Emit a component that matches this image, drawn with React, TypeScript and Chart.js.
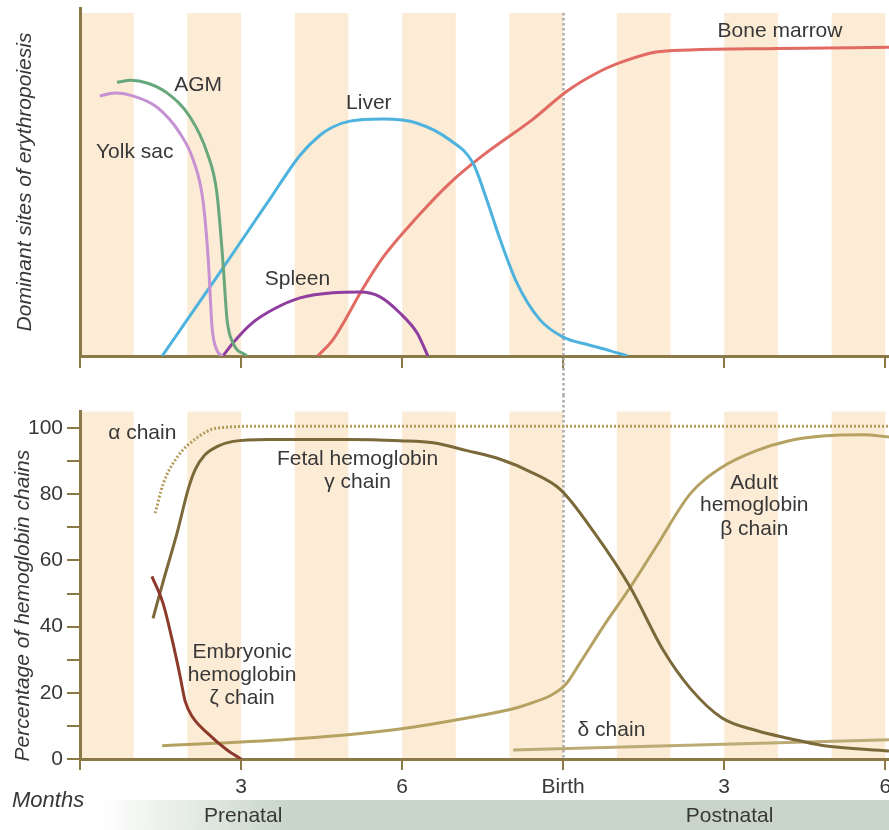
import React, { useEffect, useRef } from 'react';
import { Chart, registerables } from 'chart.js';

Chart.register(...registerables);

// ---------- data ----------
const monthTicks = [0, 3, 6, 9, 12, 15];
const monthTickLabels = ['', '3', '6', 'Birth', '3', '6'];
const percentTicks = [0, 10, 20, 30, 40, 50, 60, 70, 80, 90, 100];
const stripeStarts = [0, 2, 4, 6, 8, 10, 12, 14];
const birthMonth = 9;
const monthMax = 15.07;

// Top panel: dominant sites of erythropoiesis (relative level)
const yolkSacMonths = [0.37, 0.65, 0.95, 1.43, 1.86, 2.11, 2.29, 2.39, 2.46, 2.55, 2.66];
const yolkSacLevel = [75.6, 76.5, 75.8, 72.4, 64.8, 57.0, 45.3, 27.9, 8.4, 1.7, 0];

const agmMonths = [0.69, 0.95, 1.25, 1.62, 2.05, 2.37, 2.55, 2.66, 2.74, 2.85, 3.11];
const agmLevel = [79.6, 80.2, 79.4, 76.5, 69.5, 59.0, 47.4, 27.9, 10.5, 3.8, 0];

const liverMonths = [1.53, 2.55, 3.5, 4.1, 4.47, 4.71, 5.03, 5.65, 6.28, 6.89, 7.32, 7.58, 7.83, 8.14, 8.57, 9.0, 9.48, 9.88, 10.2];
const liverLevel = [0, 23.0, 44.8, 58.4, 64.2, 66.6, 68.3, 68.9, 67.7, 62.8, 56.1, 45.3, 33.7, 21.2, 10.5, 5.5, 3.2, 1.5, 0];

const spleenMonths = [2.66, 2.85, 3.2, 3.63, 4.1, 4.71, 5.22, 5.59, 5.96, 6.28, 6.48];
const spleenLevel = [0, 3.8, 9.5, 13.8, 16.9, 18.4, 18.6, 17.2, 12.5, 6.7, 0];

const boneMarrowMonths = [4.43, 4.71, 4.94, 5.22, 5.65, 6.28, 6.89, 7.51, 8.44, 9.07, 9.69, 10.15, 10.73, 11.35, 13.0, 15.07];
const boneMarrowLevel = [0, 4.7, 10.5, 18.3, 28.8, 40.4, 50.3, 58.4, 68.9, 77.0, 82.8, 85.8, 88.4, 89.0, 89.4, 89.8];

// Bottom panel: percentage of hemoglobin chains
const alphaMonths = [1.4, 1.55, 1.81, 2.18, 2.55, 3.5, 15.07];
const alphaPct = [74.3, 83.2, 91.2, 97.1, 100, 100.6, 100.6];

const gammaMonths = [1.36, 1.55, 1.81, 2.02, 2.15, 2.32, 2.55, 2.85, 3.5, 5.0, 5.96, 6.58, 7.21, 7.83, 8.39, 8.95, 9.58, 10.25, 10.86, 11.36, 11.96, 12.6, 13.21, 13.83, 15.07];
const gammaPct = [42.5, 53.7, 68.4, 81.8, 87.6, 91.8, 94.4, 96.0, 96.6, 96.6, 96.2, 95.6, 93.2, 90.6, 86.8, 81.4, 68.4, 51.9, 33.0, 21.5, 12.4, 8.6, 6.2, 4.1, 2.4];

const betaMonths = [1.53, 4.1, 5.96, 7.21, 8.14, 8.39, 8.8, 9.05, 9.32, 9.75, 10.25, 10.75, 11.37, 11.96, 12.6, 13.21, 13.83, 14.6, 15.07];
const betaPct = [4.0, 6.2, 9.1, 12.4, 15.5, 16.8, 19.5, 22.6, 29.2, 40.1, 51.9, 64.6, 80.2, 88.2, 93.2, 96.2, 97.6, 98.0, 97.3];

const zetaMonths = [1.34, 1.55, 1.73, 1.86, 1.96, 2.1, 2.37, 2.74, 3.0];
const zetaPct = [55.2, 46.9, 35.1, 25.4, 17.4, 12.6, 7.9, 2.7, 0];

const deltaMonths = [8.07, 15.07];
const deltaPct = [2.7, 5.8];

// annotation text (data coordinates)
const topLabels = [
  { text: 'AGM', x: 2.2, y: 78.8 },
  { text: 'Yolk sac', x: 1.02, y: 59.2 },
  { text: 'Liver', x: 5.38, y: 73.4 },
  { text: 'Spleen', x: 4.05, y: 22.4 },
  { text: 'Bone marrow', x: 13.04, y: 94.5 },
];
const bottomLabels = [
  { text: '\u03b1 chain', x: 1.16, y: 98.5 },
  { text: 'Fetal hemoglobin', x: 5.17, y: 90.6 },
  { text: '\u03b3 chain', x: 5.17, y: 83.6 },
  { text: 'Embryonic', x: 3.02, y: 32.4 },
  { text: 'hemoglobin', x: 3.02, y: 25.4 },
  { text: '\u03b6 chain', x: 3.02, y: 18.4 },
  { text: 'Adult', x: 12.56, y: 83.5 },
  { text: 'hemoglobin', x: 12.56, y: 76.6 },
  { text: '\u03b2 chain', x: 12.56, y: 69.6 },
  { text: '\u03b4 chain', x: 9.9, y: 8.6 },
];
const phaseLabels = [
  { text: 'Prenatal', x: 3.04 },
  { text: 'Postnatal', x: 12.1 },
];

// ---------- styles ----------
const FONT = '"Liberation Sans", Arial, Helvetica, sans-serif';
const AXIS = '#8a7947';
const TEXT = '#383838';
const STRIPE = '#fcebd5';
const FS = 21;

const pts = (xs: number[], ys: number[]) => xs.map((x, i) => ({ x, y: ys[i] }));

const stripesPlugin = {
  id: 'stripes',
  beforeDraw(chart: any, _a: any, opts: any) {
    const { ctx, chartArea, scales } = chart;
    const x = scales.x;
    const top = chartArea.top + (opts.inset || 0);
    ctx.save();
    ctx.fillStyle = STRIPE;
    stripeStarts.forEach((s) => {
      const x0 = x.getPixelForValue(s);
      const x1 = x.getPixelForValue(s + 1);
      ctx.fillRect(x0, top, x1 - x0, chartArea.bottom - top);
    });
    ctx.restore();
  },
  beforeDatasetsDraw(chart: any, _a: any, opts: any) {
    const { ctx, chartArea, scales } = chart;
    const bx = Math.round(scales.x.getPixelForValue(birthMonth)) + 0.5;
    const y0 = opts.birthFrom === 'canvas' ? 0 : chartArea.top + (opts.inset || 0);
    const y1 = opts.birthTo === 'canvas' ? chart.height : chartArea.bottom;
    ctx.save();
    ctx.strokeStyle = '#ababab';
    ctx.lineWidth = 2.5;
    ctx.setLineDash([2.5, 2.5]);
    ctx.beginPath();
    ctx.moveTo(bx, y0);
    ctx.lineTo(bx, y1);
    ctx.stroke();
    ctx.restore();
  },
};

const labelsPlugin = {
  id: 'annot',
  afterDatasetsDraw(chart: any, _a: any, opts: any) {
    const { ctx, scales } = chart;
    ctx.save();
    ctx.font = `${FS}px ${FONT}`;
    ctx.fillStyle = TEXT;
    ctx.textAlign = 'center';
    ctx.textBaseline = 'middle';
    (opts.items || []).forEach((it: any) => {
      ctx.fillText(it.text, scales.x.getPixelForValue(it.x), scales.y.getPixelForValue(it.y));
    });
    ctx.restore();
  },
  afterDraw(chart: any, _a: any, opts: any) {
    const { ctx, chartArea, scales } = chart;
    ctx.save();
    // y-axis title
    ctx.font = `italic 21px ${FONT}`;
    ctx.fillStyle = TEXT;
    ctx.textAlign = 'center';
    ctx.textBaseline = 'middle';
    ctx.translate(opts.titleX, chartArea.top + opts.titleY);
    ctx.rotate(-Math.PI / 2);
    ctx.fillText(opts.title, 0, 0);
    ctx.restore();

    if (opts.band) {
      const bandTop = chartArea.bottom + 41;
      const bandH = chart.height - bandTop;
      ctx.save();
      const g = ctx.createLinearGradient(100, 0, 290, 0);
      g.addColorStop(0, 'rgba(200,213,200,0)');
      g.addColorStop(1, 'rgba(200,213,200,1)');
      ctx.fillStyle = g;
      ctx.fillRect(100, bandTop, chart.width - 100, bandH);
      ctx.font = `${FS}px ${FONT}`;
      ctx.fillStyle = TEXT;
      ctx.textBaseline = 'middle';
      ctx.textAlign = 'center';
      phaseLabels.forEach((p) => {
        ctx.fillText(p.text, scales.x.getPixelForValue(p.x), bandTop + 16);
      });
      ctx.font = `italic 22px ${FONT}`;
      ctx.textAlign = 'left';
      ctx.fillText('Months', 12, chartArea.bottom + 42);
      ctx.restore();
    }
  },
};

const lineDs = (label: string, xs: number[], ys: number[], color: string, extra: any = {}) => ({
  label,
  data: pts(xs, ys),
  borderColor: color,
  borderWidth: 3,
  pointRadius: 0,
  fill: false,
  cubicInterpolationMode: 'monotone',
  ...extra,
});

const xScale = (showLabels: boolean, height: number, tickLen: number) => ({
  type: 'linear',
  min: 0,
  max: monthMax,
  afterBuildTicks: (s: any) => {
    s.ticks = monthTicks.map((v) => ({ value: v }));
  },
  afterFit: (s: any) => {
    s.height = height;
    s.paddingLeft = 0;
    s.paddingRight = 0;
  },
  ticks: {
    display: showLabels,
    autoSkip: false,
    maxRotation: 0,
    padding: 5,
    color: TEXT,
    font: { family: FONT, size: FS },
    callback: (v: number) => monthTickLabels[monthTicks.indexOf(v)] ?? '',
  },
  grid: { display: true, drawOnChartArea: false, drawTicks: true, tickLength: tickLen, color: AXIS, lineWidth: 2 },
  border: { display: true, color: AXIS, width: 3 },
});

export default function App() {
  const topRef = useRef<HTMLCanvasElement>(null);
  const botRef = useRef<HTMLCanvasElement>(null);

  useEffect(() => {
    const top = new Chart(topRef.current as HTMLCanvasElement, {
      type: 'line',
      data: {
        datasets: [
          lineDs('Yolk sac', yolkSacMonths, yolkSacLevel, '#c692d4'),
          lineDs('AGM', agmMonths, agmLevel, '#68a77b'),
          lineDs('Liver', liverMonths, liverLevel, '#4db3de'),
          lineDs('Spleen', spleenMonths, spleenLevel, '#8f3d9f'),
          lineDs('Bone marrow', boneMarrowMonths, boneMarrowLevel, '#e16a62'),
        ] as any,
      },
      options: {
        animation: false,
        responsive: false,
        layout: { padding: { left: 8, top: 8, right: 0, bottom: 0 } },
        events: [],
        plugins: {
          legend: { display: false },
          tooltip: { enabled: false },
          stripes: { inset: 5, birthTo: 'canvas' },
          annot: { items: topLabels, title: 'Dominant sites of erythropoiesis', titleX: 25, titleY: 174 },
        } as any,
        scales: {
          x: xScale(false, 39, 12) as any,
          y: {
            min: 0,
            max: 101.2,
            afterFit: (s: any) => {
              s.width = 72;
            },
            ticks: { display: false },
            grid: { display: false },
            border: { display: true, color: AXIS, width: 3 },
          },
        },
      },
      plugins: [stripesPlugin, labelsPlugin],
    });

    const bot = new Chart(botRef.current as HTMLCanvasElement, {
      type: 'line',
      data: {
        datasets: [
          lineDs('\u03b1 chain', alphaMonths, alphaPct, '#b39c5c', { borderDash: [2, 2], borderWidth: 3 }),
          lineDs('\u03b6 chain', zetaMonths, zetaPct, '#8d3a2c'),
          lineDs('\u03b3 chain', gammaMonths, gammaPct, '#7b693a'),
          lineDs('\u03b2 chain', betaMonths, betaPct, '#b5a263'),
          lineDs('\u03b4 chain', deltaMonths, deltaPct, '#bcab74', { cubicInterpolationMode: 'default', tension: 0 }),
        ] as any,
      },
      options: {
        animation: false,
        responsive: false,
        layout: { padding: { left: 8, top: 8, right: 0, bottom: 0 } },
        events: [],
        plugins: {
          legend: { display: false },
          tooltip: { enabled: false },
          stripes: { inset: 0, birthFrom: 'canvas' },
          annot: { items: bottomLabels, title: 'Percentage of hemoglobin chains', titleX: 23, titleY: 194, band: true },
        } as any,
        scales: {
          x: xScale(true, 71, 11) as any,
          y: {
            min: 0,
            max: 105,
            afterBuildTicks: (s: any) => {
              s.ticks = percentTicks.map((v) => ({ value: v }));
            },
            afterFit: (s: any) => {
              s.width = 72;
            },
            ticks: {
              autoSkip: false,
              padding: 4,
              color: TEXT,
              font: { family: FONT, size: FS },
              callback: (v: number) => (v % 20 === 0 ? String(v) : ''),
            },
            grid: { display: true, drawOnChartArea: false, drawTicks: true, tickLength: 13, color: AXIS, lineWidth: 2 },
            border: { display: true, color: AXIS, width: 3 },
          },
        },
      },
      plugins: [stripesPlugin, labelsPlugin],
    });

    return () => {
      top.destroy();
      bot.destroy();
    };
  }, []);

  return (
    <div style={{ position: 'fixed', left: 0, top: 0, width: 889, height: 830, background: '#fff', overflow: 'hidden' }}>
      <canvas ref={topRef} width={889} height={395} style={{ position: 'absolute', left: 0, top: 0, display: 'block' }} />
      <canvas ref={botRef} width={889} height={435} style={{ position: 'absolute', left: 0, top: 395, display: 'block' }} />
    </div>
  );
}
